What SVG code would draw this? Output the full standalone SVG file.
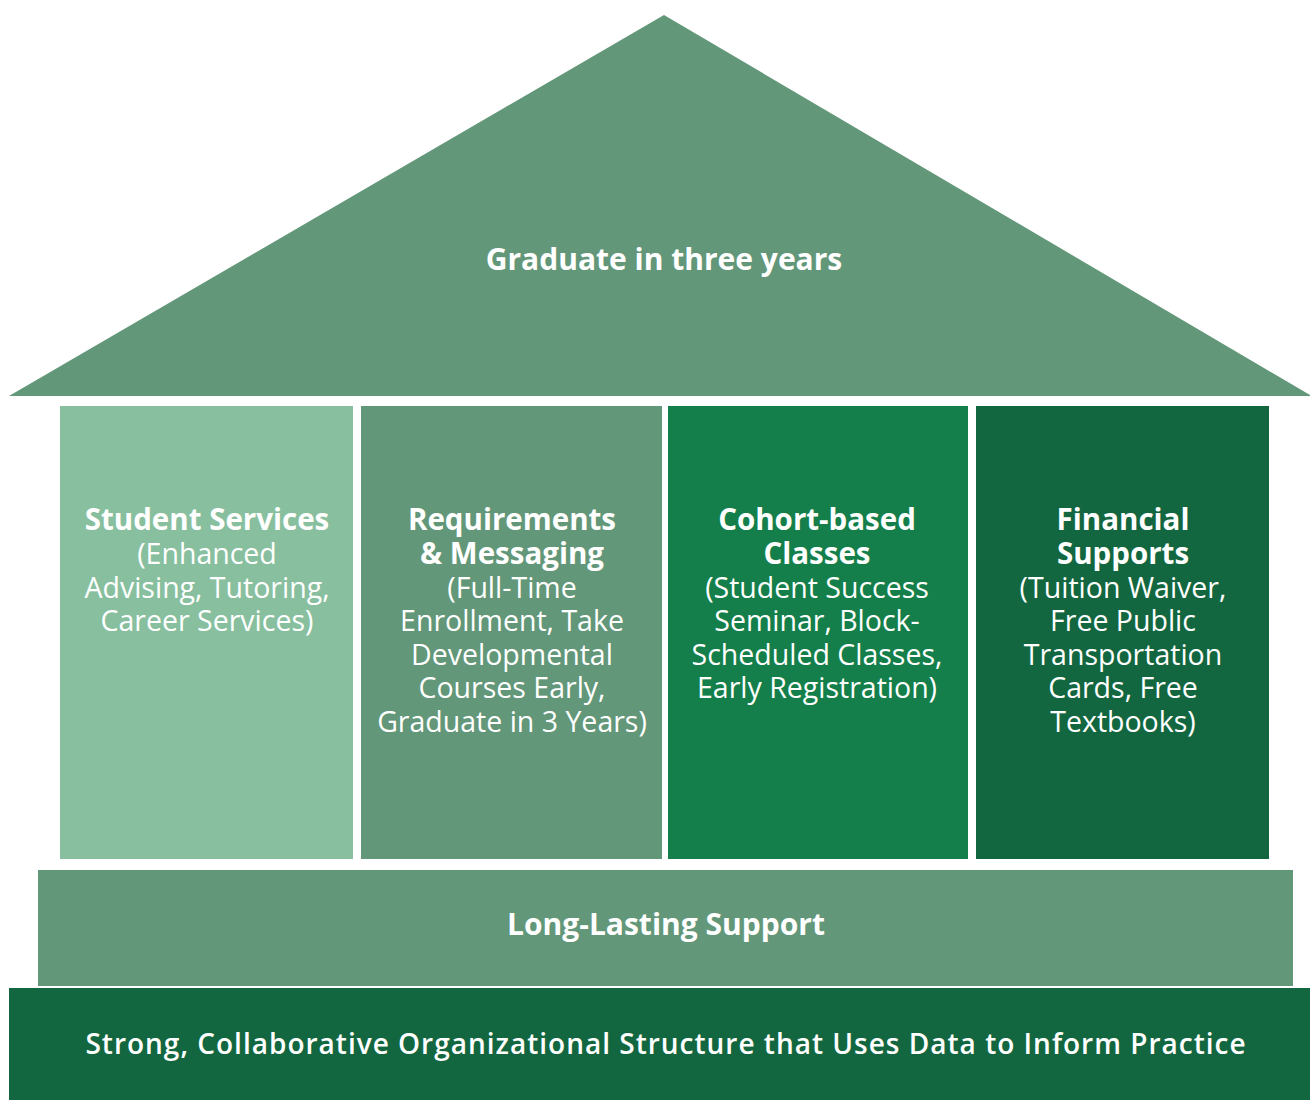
<svg xmlns="http://www.w3.org/2000/svg" width="1310" height="1100" viewBox="0 0 1310 1100">
<style>
text{font-family:"Open Sans","Noto Sans","DejaVu Sans",sans-serif;fill:#ffffff;text-anchor:middle}
.t{font-weight:700;font-size:29.5px}
.b{font-size:28.5px}
.h{font-weight:700;font-size:30px}
.l{font-weight:700;font-size:30px}
.f{font-weight:600;font-size:28px;letter-spacing:1px}
</style>
<rect width="1310" height="1100" fill="#ffffff"/>
<g id="roof">
<polygon points="664,15 1310,395 1310,396 9,396" fill="#639779"/>
<text class="h" x="664" y="270">Graduate in three years</text>
</g>
<g id="pillar-student-services">
<rect x="60" y="406" width="293" height="453" fill="#88bf9f"/>
<text class="t" x="207" y="530">Student Services</text>
<text class="b" x="207" y="564">(Enhanced</text>
<text class="b" x="207" y="598">Advising, Tutoring,</text>
<text class="b" x="207" y="631">Career Services)</text>
</g>
<g id="pillar-requirements">
<rect x="361" y="406" width="301" height="453" fill="#639779"/>
<text class="t" x="512" y="530">Requirements</text>
<text class="t" x="512" y="564">&amp; Messaging</text>
<text class="b" x="512" y="598">(Full-Time</text>
<text class="b" x="512" y="631">Enrollment, Take</text>
<text class="b" x="512" y="665">Developmental</text>
<text class="b" x="512" y="698">Courses Early,</text>
<text class="b" x="512" y="732">Graduate in 3 Years)</text>
</g>
<g id="pillar-cohort">
<rect x="668" y="406" width="300" height="453" fill="#147f4a"/>
<text class="t" x="817" y="530">Cohort-based</text>
<text class="t" x="817" y="564">Classes</text>
<text class="b" x="817" y="598">(Student Success</text>
<text class="b" x="817" y="631">Seminar, Block-</text>
<text class="b" x="817" y="665">Scheduled Classes,</text>
<text class="b" x="817" y="698">Early Registration)</text>
</g>
<g id="pillar-financial">
<rect x="976" y="406" width="293" height="453" fill="#136740"/>
<text class="t" x="1123" y="530">Financial</text>
<text class="t" x="1123" y="564">Supports</text>
<text class="b" x="1123" y="598">(Tuition Waiver,</text>
<text class="b" x="1123" y="631">Free Public</text>
<text class="b" x="1123" y="665">Transportation</text>
<text class="b" x="1123" y="698">Cards, Free</text>
<text class="b" x="1123" y="732">Textbooks)</text>
</g>
<g id="long-lasting-support">
<rect x="38" y="870" width="1255" height="116" fill="#639779"/>
<text class="l" x="666" y="935">Long-Lasting Support</text>
</g>
<g id="foundation">
<rect x="9" y="988" width="1301" height="112" fill="#136740"/>
<text class="f" x="666" y="1054">Strong, Collaborative Organizational Structure that Uses Data to Inform Practice</text>
</g>
<g id="connectors"></g>
</svg>
